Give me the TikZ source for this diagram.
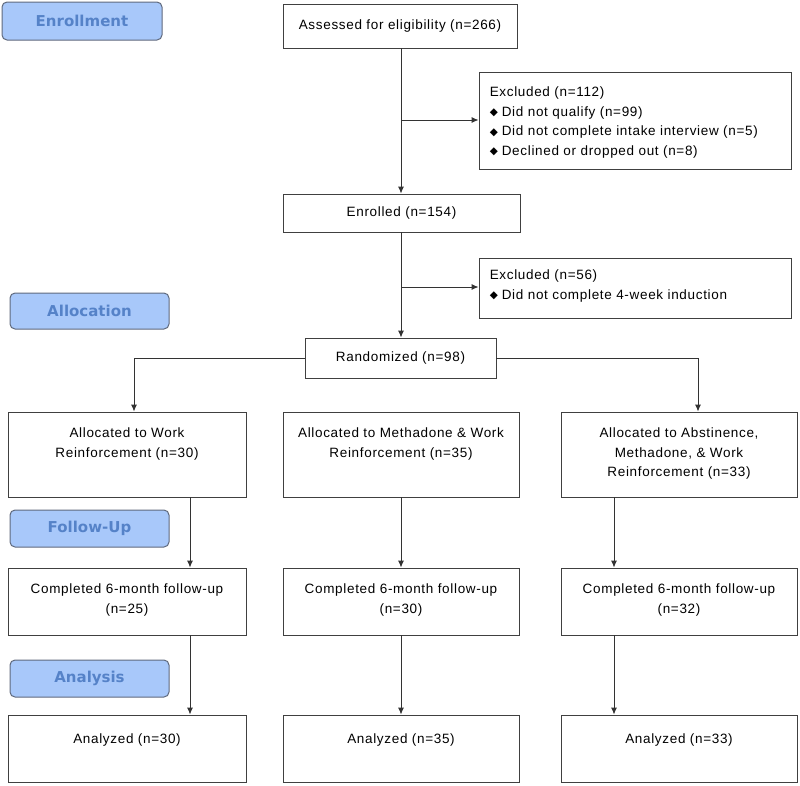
\documentclass[tikz,border=0pt]{standalone}
\usepackage{fontspec}
\setmainfont{Liberation Sans}[LetterSpace=5]
\newfontfamily\hdrfont{DejaVu Sans}
\newfontfamily\symfont{DejaVu Sans}
\usetikzlibrary{arrows.meta}
\definecolor{hdrfill}{RGB}{168,200,250}
\definecolor{hdrline}{RGB}{95,105,125}
\definecolor{hdrtext}{RGB}{85,130,200}
\tikzset{
  box/.style={draw=black!75, line width=0.9pt, rectangle, inner sep=0pt},
  txt/.style={font=\fontsize{13.5}{19.5}\selectfont, inner sep=0pt, align=center},
  hdr/.style={draw=hdrline, fill=hdrfill, line width=1pt, rounded corners=5pt, inner sep=0pt,
     text=hdrtext, font=\hdrfont\bfseries\fontsize{15}{16}\selectfont},
  arr/.style={line width=0.9pt, draw=black!80, -{Latex[length=7pt,width=6pt]}},
  ln/.style={line width=0.9pt, draw=black!80},
}
\newcommand{\bul}{{\symfont\fontsize{10.5}{10}\selectfont\raisebox{0.3pt}{◆}}\hspace{4pt}}
\begin{document}
\begin{tikzpicture}[x=1pt,y=-1pt]
\useasboundingbox (0,0) rectangle (800,785);
% headers
\node[hdr, minimum width=160pt, minimum height=38pt] (h1) at (82,21) {Enrollment};
\node[hdr, minimum width=159pt, minimum height=36pt] (h2) at (89.5,311) {Allocation};
\node[hdr, minimum width=159pt, minimum height=37pt] (h3) at (89.5,528.5) {Follow-Up};
\node[hdr, minimum width=159pt, minimum height=37pt] (h4) at (89.5,678.5) {Analysis};
% boxes
\node[box, minimum width=234pt, minimum height=44pt] (assess) at (400,26) {};
\node[txt] at (assess.center) {Assessed for eligibility (n=266)};
\node[box, minimum width=312pt, minimum height=97pt] (ex1) at (635,120.5) {};
\node[txt, anchor=north west, align=left] at ([xshift=11pt,yshift=-15pt]ex1.north west)
 {Excluded (n=112)\\ \bul Did not qualify (n=99)\\ \bul Did not complete intake interview (n=5)\\ \bul Declined or dropped out (n=8)};
\node[box, minimum width=237pt, minimum height=38pt] (enr) at (401.5,213) {};
\node[txt] at (enr.center) {Enrolled (n=154)};
\node[box, minimum width=312pt, minimum height=60pt] (ex2) at (635,288) {};
\node[txt, anchor=north west, align=left] at ([xshift=11pt,yshift=-12pt]ex2.north west)
 {Excluded (n=56)\\ \bul Did not complete 4-week induction};
\node[box, minimum width=191pt, minimum height=40pt] (rand) at (400.5,358) {};
\node[txt] at (rand.center) {Randomized (n=98)};
% allocation
\node[box, minimum width=238pt, minimum height=85pt] (a1) at (127,454.5) {};
\node[box, minimum width=236pt, minimum height=85pt] (a2) at (401,454.5) {};
\node[box, minimum width=236pt, minimum height=85pt] (a3) at (679,454.5) {};
\node[txt, anchor=north] at ([yshift=-16pt]a1.north) {Allocated to Work\\Reinforcement (n=30)};
\node[txt, anchor=north] at ([yshift=-16pt]a2.north) {Allocated to Methadone \& Work\\Reinforcement (n=35)};
\node[txt, anchor=north] at ([yshift=-16pt]a3.north) {Allocated to Abstinence,\\Methadone, \& Work\\Reinforcement (n=33)};
% follow-up
\node[box, minimum width=238pt, minimum height=67pt] (f1) at (127,601.5) {};
\node[box, minimum width=236pt, minimum height=67pt] (f2) at (401,601.5) {};
\node[box, minimum width=236pt, minimum height=67pt] (f3) at (679,601.5) {};
\node[txt, anchor=north] at ([yshift=-16pt]f1.north) {Completed 6-month follow-up\\(n=25)};
\node[txt, anchor=north] at ([yshift=-16pt]f2.north) {Completed 6-month follow-up\\(n=30)};
\node[txt, anchor=north] at ([yshift=-16pt]f3.north) {Completed 6-month follow-up\\(n=32)};
% analysis
\node[box, minimum width=238pt, minimum height=67pt] (z1) at (127,748.5) {};
\node[box, minimum width=236pt, minimum height=67pt] (z2) at (401,748.5) {};
\node[box, minimum width=236pt, minimum height=67pt] (z3) at (679,748.5) {};
\node[txt, anchor=north] at ([yshift=-19pt]z1.north) {Analyzed (n=30)};
\node[txt, anchor=north] at ([yshift=-19pt]z2.north) {Analyzed (n=35)};
\node[txt, anchor=north] at ([yshift=-19pt]z3.north) {Analyzed (n=33)};
% connectors
\coordinate (b1) at (401,120);
\coordinate (b2) at (401,287);
\draw[arr] (assess.south -| b1) -- (enr.north -| b1);
\draw[arr] (b1) -- (b1 -| ex1.west);
\draw[arr] (enr.south -| b2) -- (rand.north -| b2);
\draw[arr] (b2) -- (b2 -| ex2.west);
\coordinate (c1) at (190,0);
\coordinate (c2) at (401,0);
\coordinate (c3) at (614,0);
\coordinate (l1) at (134,0);
\coordinate (r1) at (698,0);
\draw[arr] (rand.west) -| (l1 |- a1.north);
\draw[arr] (rand.east) -| (r1 |- a3.north);
\draw[arr] (a1.south -| c1) -- (f1.north -| c1);
\draw[arr] (a2.south -| c2) -- (f2.north -| c2);
\draw[arr] (a3.south -| c3) -- (f3.north -| c3);
\draw[arr] (f1.south -| c1) -- (z1.north -| c1);
\draw[arr] (f2.south -| c2) -- (z2.north -| c2);
\draw[arr] (f3.south -| c3) -- (z3.north -| c3);
\end{tikzpicture}
\end{document}
